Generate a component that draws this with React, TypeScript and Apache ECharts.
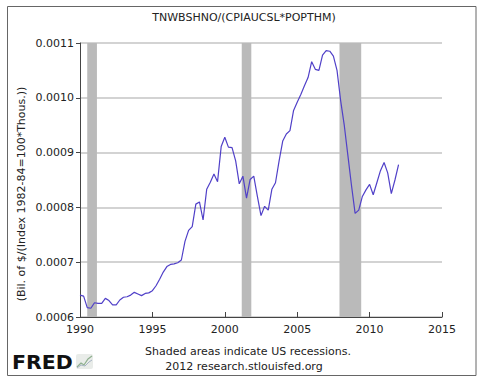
import { useEffect, useRef } from 'react';
import * as echarts from 'echarts';

const chartTitle = 'TNWBSHNO/(CPIAUCSL*POPTHM)';
const yAxisTitle = '(Bil. of $/(Index 1982-84=100*Thous.))';
const footerLine1 = 'Shaded areas indicate US recessions.';
const footerLine2 = '2012 research.stlouisfed.org';
const logoText = 'FRED';

// quarterly observations starting 1990 Q1
const startYear = 1990;
const values = [
  0.000640, 0.000638, 0.000617, 0.000616, // 1990
  0.000626, 0.000625, 0.000625, 0.000634, // 1991
  0.000630, 0.000622, 0.000622, 0.000631, // 1992
  0.000636, 0.000637, 0.000640, 0.000645, // 1993
  0.000642, 0.000639, 0.000643, 0.000644, // 1994
  0.000648, 0.000657, 0.000669, 0.000682, // 1995
  0.000692, 0.000696, 0.000697, 0.000699, // 1996
  0.000704, 0.000738, 0.000758, 0.000765, // 1997
  0.000806, 0.000810, 0.000777, 0.000833, // 1998
  0.000846, 0.000861, 0.000847, 0.000911, // 1999
  0.000928, 0.000910, 0.000909, 0.000885, // 2000
  0.000843, 0.000857, 0.000817, 0.000851, // 2001
  0.000857, 0.000820, 0.000785, 0.000802, // 2002
  0.000795, 0.000833, 0.000845, 0.000885, // 2003
  0.000921, 0.000934, 0.000940, 0.000977, // 2004
  0.000992, 0.001006, 0.001022, 0.001037, // 2005
  0.001066, 0.001052, 0.001050, 0.001078, // 2006
  0.001086, 0.001085, 0.001076, 0.001050, // 2007
  0.000995, 0.000950, 0.000895, 0.000840, // 2008
  0.000789, 0.000795, 0.000820, 0.000832, // 2009
  0.000842, 0.000823, 0.000845, 0.000867, // 2010
  0.000882, 0.000863, 0.000825, 0.000850, // 2011
  0.000878, // 2012
];

// recession periods in decimal years
const recessions: [number, number][] = [
  [1990.5, 1991.17],
  [2001.17, 2001.83],
  [2007.92, 2009.42],
];

const xMin = 1990;
const xMax = 2015;
const xStep = 5;
const yMin = 0.0006;
const yMax = 0.0011;
const yStep = 0.0001;

const FONT = '"DejaVu Sans", Verdana, sans-serif';

export default function App() {
  const ref = useRef<HTMLDivElement>(null);

  useEffect(() => {
    if (!ref.current) return;
    const chart = echarts.init(ref.current, undefined, { renderer: 'svg' });
    const seriesData = values.map((v, i) => [startYear + i / 4, v]);

    chart.setOption({
      animation: false,
      backgroundColor: '#ffffff',
      grid: { left: 80, top: 43, width: 362, height: 274 },
      xAxis: {
        type: 'value',
        min: xMin,
        max: xMax,
        interval: xStep,
        axisLine: { show: true, lineStyle: { color: '#444', width: 1 } },
        axisTick: { show: true, inside: true, length: 5, lineStyle: { color: '#444' } },
        axisLabel: {
          margin: 7,
          color: '#222',
          fontFamily: FONT,
          fontSize: 11,
          formatter: (v: number) => String(v),
        },
        splitLine: { show: false },
      },
      yAxis: {
        type: 'value',
        min: yMin,
        max: yMax,
        interval: yStep,
        axisLine: { show: true, lineStyle: { color: '#444', width: 1 } },
        axisTick: { show: true, inside: false, length: 4, lineStyle: { color: '#444' } },
        axisLabel: {
          margin: 6,
          color: '#222',
          fontFamily: FONT,
          fontSize: 11,
          formatter: (v: number) => v.toFixed(4),
        },
        splitLine: { show: true, lineStyle: { color: '#c4c4c4', width: 1.5 } },
      },
      series: [
        {
          type: 'line',
          data: seriesData,
          showSymbol: false,
          symbol: 'none',
          lineStyle: { color: '#5040c8', width: 1.2 },
          z: 3,
          markArea: {
            silent: true,
            itemStyle: { color: '#bababa', opacity: 1 },
            data: recessions.map(([a, b]) => [{ xAxis: a }, { xAxis: b }]),
          },
        },
      ],
      graphic: [
        {
          type: 'rect',
          shape: { x: 7.5, y: 6.5, width: 468.5, height: 369 },
          style: { fill: 'none', stroke: '#666', lineWidth: 1 },
          silent: true,
        },
        {
          type: 'text',
          x: 244,
          y: 17,
          style: {
            text: chartTitle,
            fill: '#222',
            font: `11px ${FONT}`,
            textAlign: 'center',
            textVerticalAlign: 'middle',
          },
        },
        {
          type: 'text',
          x: 21,
          y: 194,
          rotation: Math.PI / 2,
          style: {
            text: yAxisTitle,
            fill: '#222',
            font: `11px ${FONT}`,
            textAlign: 'center',
            textVerticalAlign: 'middle',
          },
        },
        {
          type: 'text',
          x: 248,
          y: 351,
          style: {
            text: footerLine1,
            fill: '#222',
            font: `11px ${FONT}`,
            textAlign: 'center',
            textVerticalAlign: 'middle',
          },
        },
        {
          type: 'text',
          x: 244,
          y: 366,
          style: {
            text: footerLine2,
            fill: '#222',
            font: `11px ${FONT}`,
            textAlign: 'center',
            textVerticalAlign: 'middle',
          },
        },
        {
          type: 'text',
          x: 12,
          y: 363,
          scaleX: 1.08,
          style: {
            text: logoText,
            fill: '#111',
            font: `900 19px "DejaVu Sans", sans-serif`,
            textAlign: 'left',
            textVerticalAlign: 'middle',
          },
        },
        {
          type: 'group',
          x: 76,
          y: 354,
          children: [
            {
              type: 'rect',
              shape: { x: 0, y: 0, width: 17, height: 15, r: 2 },
              style: { fill: '#e9ece9' },
            },
            {
              type: 'polyline',
              shape: { points: [[1, 13], [5, 9], [8, 11], [12, 5], [16, 2]] },
              style: { stroke: '#8fb08f', lineWidth: 1.2, fill: 'none' },
            },
            {
              type: 'polyline',
              shape: { points: [[1, 14], [5, 11], [9, 12], [13, 8], [16, 6]] },
              style: { stroke: '#a7b4c4', lineWidth: 1, fill: 'none' },
            },
          ],
        },
      ],
    });

    return () => chart.dispose();
  }, []);

  return (
    <div
      ref={ref}
      style={{ position: 'absolute', left: 0, top: 0, width: 480, height: 387 }}
    />
  );
}
